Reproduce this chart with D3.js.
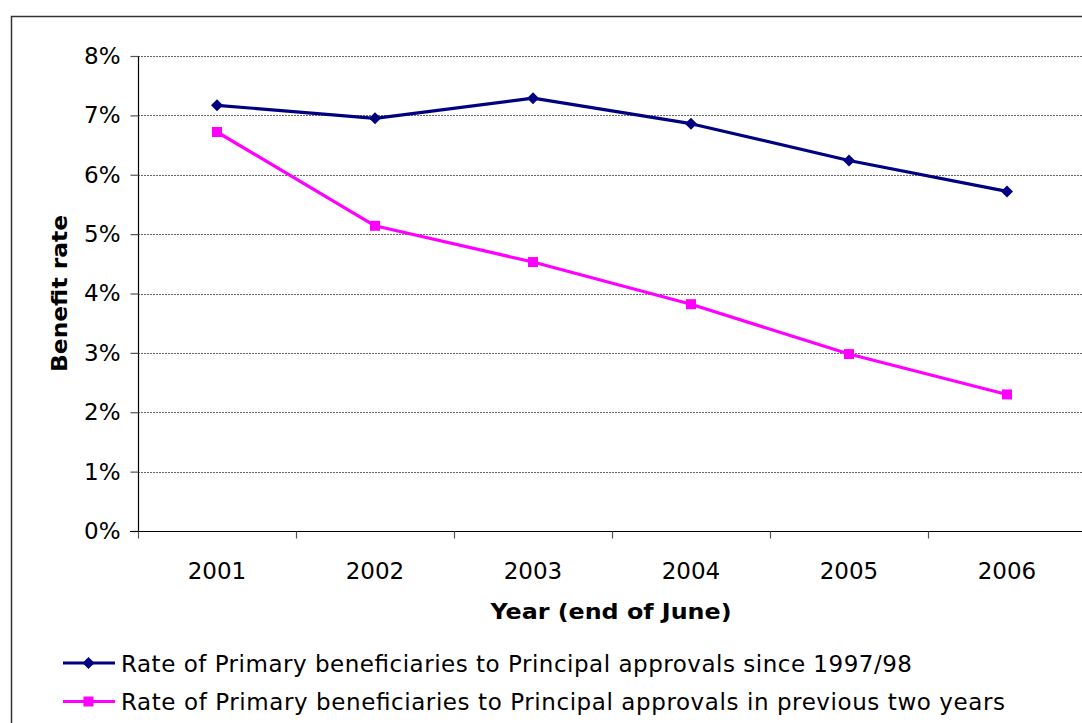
<!DOCTYPE html>
<html>
<head>
<meta charset="utf-8">
<script src="https://cdn.jsdelivr.net/npm/d3@7/dist/d3.min.js"></script>
<style>
  html, body { margin: 0; padding: 0; background: #fff; }
  svg { display: block; }
  text { font-family: "DejaVu Sans", Verdana, sans-serif; fill: #000; }
</style>
</head>
<body>
<svg id="chart" width="1082" height="723"></svg>
<script>
// Benefit rates by year (end of June), in percent
const years = ["2001", "2002", "2003", "2004", "2005", "2006"];
const sinceAll = [7.17, 6.95, 7.29, 6.86, 6.24, 5.72];
const prevTwoYears = [6.72, 5.14, 4.53, 3.82, 2.98, 2.30];
const yTicks = [0, 1, 2, 3, 4, 5, 6, 7, 8];
const seriesNames = [
  "Rate of Primary beneficiaries to Principal approvals since 1997/98",
  "Rate of Primary beneficiaries to Principal approvals in previous two years"
];

const svg = d3.select("#chart");
const W = 1082, H = 723;

// outer chart frame
svg.append("rect")
  .attr("x", 11.5).attr("y", 16.5)
  .attr("width", W + 10).attr("height", H + 10)
  .attr("fill", "#fff").attr("stroke", "#333").attr("stroke-width", 1.5);

const plot = { left: 138, right: 1086, top: 56, bottom: 531 };

const x = d3.scaleBand().domain(years).range([plot.left, plot.right]).padding(0);
const y = d3.scaleLinear().domain([0, 8]).range([plot.bottom, plot.top]);

// gridlines
svg.append("g")
  .selectAll("line")
  .data(yTicks.filter(d => d > 0))
  .join("line")
  .attr("x1", plot.left).attr("x2", plot.right)
  .attr("y1", d => Math.round(y(d)) + 0.5).attr("y2", d => Math.round(y(d)) + 0.5)
  .attr("stroke", "#666").attr("stroke-width", 1)
  .attr("stroke-dasharray", "2,1");

// y axis
const yAxis = d3.axisLeft(y).tickValues(yTicks).tickFormat(d => d + "%").tickSize(8).tickPadding(10);
const gy = svg.append("g").attr("transform", `translate(${plot.left + 0.5},0)`).call(yAxis);
gy.select(".domain").attr("stroke", "#000").attr("stroke-width", 1.2).attr("d", `M0,${plot.top}V${plot.bottom}`);
gy.selectAll(".tick line").attr("stroke", "#555").attr("stroke-width", 1.2);
gy.selectAll(".tick text").style("font-size", "23px").attr("fill", "#000")
  .style("font-family", "'DejaVu Sans', Verdana, sans-serif");

// x axis with ticks on the category boundaries
const gx = svg.append("g").attr("transform", `translate(0,${plot.bottom + 0.5})`);
gx.append("line").attr("x1", plot.left - 8).attr("x2", plot.right)
  .attr("stroke", "#000").attr("stroke-width", 1.2);
const boundaries = years.map(d => x(d)).concat([plot.right]);
gx.selectAll("line.tk").data(boundaries).join("line").attr("class", "tk")
  .attr("x1", d => Math.round(d) + 0.5).attr("x2", d => Math.round(d) + 0.5)
  .attr("y1", 0).attr("y2", 7).attr("stroke", "#555").attr("stroke-width", 1.2);
gx.selectAll("text").data(years).join("text")
  .attr("x", d => x(d) + x.bandwidth() / 2).attr("y", 47)
  .attr("text-anchor", "middle").style("font-size", "23px").text(d => d);

// axis titles
svg.append("text")
  .attr("transform", `translate(67,${(plot.top + plot.bottom) / 2}) rotate(-90)`)
  .attr("text-anchor", "middle").style("font-size", "22px").style("font-weight", "bold")
  .attr("textLength", 157).attr("lengthAdjust", "spacingAndGlyphs")
  .text("Benefit rate");
svg.append("text")
  .attr("x", 611).attr("y", 619).attr("text-anchor", "middle")
  .style("font-size", "22px").style("font-weight", "bold")
  .attr("textLength", 241).attr("lengthAdjust", "spacingAndGlyphs")
  .text("Year (end of June)");

// series lines and markers
const cx = d => x(d) + x.bandwidth() / 2;
const line = d3.line().x(d => cx(d.year)).y(d => y(d.v));
const blue = "#000080", pink = "#FF00FF";
const s1 = years.map((yr, i) => ({ year: yr, v: sinceAll[i] }));
const s2 = years.map((yr, i) => ({ year: yr, v: prevTwoYears[i] }));

svg.append("path").datum(s1).attr("d", line).attr("fill", "none")
  .attr("stroke", blue).attr("stroke-width", 3.2).attr("stroke-linejoin", "round");
svg.append("path").datum(s2).attr("d", line).attr("fill", "none")
  .attr("stroke", pink).attr("stroke-width", 3.2).attr("stroke-linejoin", "round");

const diamond = (px, py, r) => `M${px},${py - r}L${px + r},${py}L${px},${py + r}L${px - r},${py}Z`;
svg.append("g").selectAll("path").data(s1).join("path")
  .attr("d", d => diamond(cx(d.year), y(d.v), 6)).attr("fill", blue);
svg.append("g").selectAll("rect").data(s2).join("rect")
  .attr("x", d => cx(d.year) - 5).attr("y", d => y(d.v) - 5)
  .attr("width", 10).attr("height", 10).attr("fill", pink);

// legend
const legendY = [663, 701.5];
const legendLen = [791, 884];
const colors = [blue, pink];
const lg = svg.append("g");
seriesNames.forEach((name, i) => {
  const ly = legendY[i];
  lg.append("line").attr("x1", 63).attr("x2", 115).attr("y1", ly).attr("y2", ly)
    .attr("stroke", colors[i]).attr("stroke-width", 3.2);
  if (i === 0) {
    lg.append("path").attr("d", diamond(88.5, ly, 6)).attr("fill", blue);
  } else {
    lg.append("rect").attr("x", 83.5).attr("y", ly - 5).attr("width", 10).attr("height", 10).attr("fill", pink);
  }
  lg.append("text").attr("x", 121).attr("y", ly + 8.5)
    .style("font-size", "23px")
    .attr("textLength", legendLen[i]).attr("lengthAdjust", "spacing")
    .text(name);
});
</script>
</body>
</html>
